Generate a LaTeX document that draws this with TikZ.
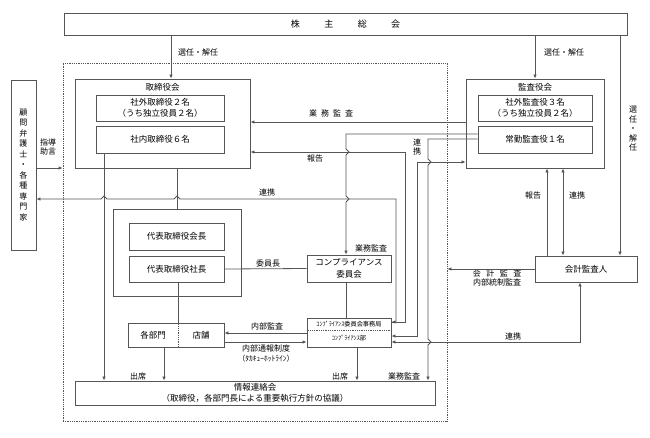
\documentclass[tikz,border=0pt]{standalone}
\usepackage{fontspec}
\setmainfont{Noto Sans CJK JP}
\usepackage{xcolor}
\usepackage{tikz}
\usetikzlibrary{arrows.meta, positioning}
\definecolor{linegray}{RGB}{85,85,85}
\newcommand{\boxfont}{\fontsize{8.5}{11.5}\selectfont}
\newcommand{\notefont}{\fontsize{8}{9.5}\selectfont}
\tikzstyle{group} = [rectangle, draw=linegray, line width=0.9pt, fill=white, inner sep=0pt]
\tikzstyle{member} = [rectangle, draw=linegray, line width=0.9pt, fill=white, inner sep=0pt, align=center, font=\boxfont]
\tikzstyle{note} = [inner sep=0pt, align=center, font=\notefont]
\tikzstyle{arrow} = [draw=linegray, -{Latex[length=4pt,width=3.5pt]}]
\tikzstyle{twoway} = [draw=linegray, {Latex[length=4pt,width=3.5pt]}-{Latex[length=4pt,width=3.5pt]}]
\tikzstyle{link} = [draw=linegray]

\begin{document}
\begin{tikzpicture}[x=1pt, y=-1pt, line width=0.8pt]
		\useasboundingbox (0,0) rectangle (650,437);
		
		% Nodes
		\node (kabunushi_soukai) [member, minimum width=563pt, minimum height=22pt, font=\fontsize{9}{11}\selectfont] at (345.5,24) {株\hspace{24.5pt}主\hspace{24.5pt}総\hspace{24.5pt}会};
		\node (shikkou) [draw=linegray, densely dotted, minimum width=384pt, minimum height=358pt, inner sep=0pt] at (255,242) {};
		\node (torishimari) [group, minimum width=175pt, minimum height=89pt] at (162.5,123.5) {};
		\node (torishimari_title) [note, font=\boxfont, below=4pt of torishimari.north] {取締役会};
		\node (shagai_tori) [member, minimum width=128pt, minimum height=26pt] at (160,108) {社外取締役２名\\（うち独立役員２名）};
		\node (shanai_tori) [member, minimum width=128pt, minimum height=27pt] at (160,139.5) {社内取締役６名};
		\node (kansayaku) [group, minimum width=138pt, minimum height=89pt] at (535,123.5) {};
		\node (kansayaku_title) [note, font=\boxfont, below=4pt of kansayaku.north] {監査役会};
		\node (shagai_kansa) [member, minimum width=114pt, minimum height=26pt] at (535,108) {社外監査役３名\\（うち独立役員２名）};
		\node (joukin_kansa) [member, minimum width=114pt, minimum height=27pt] at (535,139.5) {常勤監査役１名};
		\node (komon) [member, minimum width=25pt, minimum height=170pt, font=\fontsize{8}{10.5}\selectfont] at (23.5,165) {顧\\問\\弁\\護\\士\\・\\各\\種\\専\\門\\家};
		\node (daihyo) [group, minimum width=128pt, minimum height=87pt] at (177,252.5) {};
		\node (kaicho) [member, minimum width=95pt, minimum height=27pt] at (176.5,236.5) {代表取締役会長};
		\node (shacho) [member, minimum width=95pt, minimum height=26pt] at (176.5,269) {代表取締役社長};
		\node (comp_iinkai) [member, minimum width=84pt, minimum height=27pt] at (349,268.5) {コンプライアンス\\委員会};
		\node (comp_box) [group, minimum width=84pt, minimum height=29pt] at (349,332.5) {};
		\node (jimukyoku) [note, font=\fontsize{6.2}{7}\selectfont] at (349,324) {ｺﾝﾌﾟﾗｲｱﾝｽ委員会事務局};
		\node (comp_bu) [note, font=\fontsize{6.2}{7}\selectfont] at (349,338.5) {ｺﾝﾌﾟﾗｲｱﾝｽ部};
		\node (bumon_box) [group, minimum width=96pt, minimum height=24pt] at (176,335) {};
		\node (kakubumon) [note, font=\boxfont] at (153,335) {各部門};
		\node (tenpo) [note, font=\boxfont] at (201,335) {店舗};
		\node (joho) [member, minimum width=360pt, minimum height=24pt] at (255,393) {情報連絡会\\（取締役，各部門長による重要執行方針の協議）};
		\node (kaikei) [member, minimum width=102pt, minimum height=26pt] at (586,269) {会計監査人};
		
		% Labels
		\node (sennin_tori) [note] at (198,52) {選任・解任};
		\node (sennin_kansa) [note] at (564,52) {選任・解任};
		\node (sennin_kaikei) [note] at (633,129) {選\\任\\・\\解\\任};
		\node (shidou) [note] at (48,147) {指導\\助言};
		\node (gyoumu_tori) [note] at (331,113) {業\hspace{4pt}務\hspace{4pt}監\hspace{4pt}査};
		\node (houkoku_tori) [note] at (315,158) {報告};
		\node (renkei_kansa) [note] at (417,147) {連\\携};
		\node (renkei_komon) [note] at (267,192) {連携};
		\node (gyoumu_iinkai) [note] at (371,248) {業務監査};
		\node (iinchou) [note] at (268,263) {委員長};
		\node (houkoku_kaikei) [note] at (533,195) {報告};
		\node (renkei_kaikei) [note] at (577,195) {連携};
		\node (kaikei_kansa) [note] at (497,278) {会\hspace{5.5pt}計\hspace{5.5pt}監\hspace{5.5pt}査\\内部統制監査};
		\node (renkei_bu) [note] at (513,336) {連携};
		\node (naibu_kansa) [note] at (267,326) {内部監査};
		\node (naibu_tsuuhou) [note] at (266,348) {内部通報制度};
		\node (hotline) [note, font=\fontsize{7.5}{8}\selectfont] at (266,359) {（ﾀｶｷｭｰﾎｯﾄﾗｲﾝ）};
		\node (shusseki_bumon) [note] at (138,376) {出席};
		\node (shusseki_bu) [note] at (340,376) {出席};
		\node (gyoumu_joho) [note] at (404,376) {業務監査};
		
		% Arrows
		\draw [arrow] (kabunushi_soukai.south -| 171,0) -- (torishimari.north -| 171,0);
		\draw [arrow] (kabunushi_soukai.south -| kansayaku.north) -- (kansayaku.north);
		\draw [arrow] (kabunushi_soukai.south -| 620,0) -- (kaikei.north -| 620,0);
		\draw [arrow] (kaikei.north -| 547,0) -- (kansayaku.south -| 547,0);
		\draw [twoway] (kaikei.north -| 563,0) -- (kansayaku.south -| 563,0);
		\draw [arrow] (kaikei.west) -- (kaikei.west -| shikkou.east);
		\draw [arrow] (komon.east |- 0,168) -- (shikkou.west |- 0,168);
		\draw [arrow] (kansayaku.west |- 0,122) -- (torishimari.east |- 0,122);
		\draw [arrow] (comp_box.east |- 0,322) -- (405,322) -- (405,152) -- (torishimari.east |- 0,152);
		\draw [twoway] (kansayaku.west |- 0,162) -- (417,162) -- (417,336) -- (comp_box.east |- 0,336);
		\draw [twoway] (comp_box.east |- 0,342) -- (580,342) -- (kaikei.south -| 580,0);
		\draw [arrow] (comp_box.west |- 0,333) -- (bumon_box.east |- 0,333);
		\draw [arrow] (bumon_box.east |- 0,342) -- (comp_box.west |- 0,342);
		\draw [arrow] (shanai_tori.south -| 104,0) -- (joho.north -| 104,0);
		\draw [arrow] (bumon_box.south -| 164,0) -- (joho.north -| 164,0);
		\draw [arrow] (comp_box.south -| 357,0) -- (joho.north -| 357,0);
		\draw [link] (shacho.east) -- (comp_iinkai.west);
		\draw [link] (comp_iinkai.south -| 346,0) -- (comp_box.north -| 346,0);
		\draw [link] (torishimari.south -| 177,0) -- (daihyo.north -| 177,0);
		\draw [link] (shacho.south -| 178,0) -- (bumon_box.north -| 178,0);
		\draw [link, densely dotted] (bumon_box.north -| 178,0) -- (bumon_box.south -| 178,0);
		\draw [link, densely dotted] (comp_box.west |- 0,330) -- (comp_box.east |- 0,330);
		
		% Crossings
		\draw [twoway] (komon.east |- 0,199) -- (101,199) -- ++(3,-3) -- ++(3,3) -- (174,199) -- ++(3,-3) -- ++(3,3) -- (396,199) -- (396,322) -- (comp_box.east |- 0,322);
		\draw [arrow] (joukin_kansa.west |- 0,134) -- (346,134) -- (346,149) -- ++(3,3) -- ++(-3,3) -- (346,196) -- ++(3,3) -- ++(-3,3) -- (comp_iinkai.north -| 346,0);
		\draw [arrow] (joukin_kansa.west |- 0,139) -- (428,139) -- (428,159) -- ++(3,3) -- ++(-3,3) -- (428,339) -- ++(3,3) -- ++(-3,3) -- (joho.north -| 428,0);
		
	\end{tikzpicture}
\end{document}
